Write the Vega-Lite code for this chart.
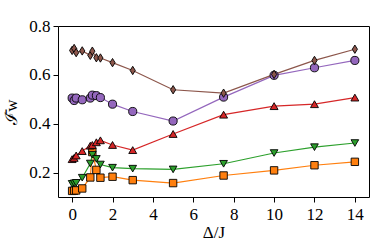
{
  "$schema": "https://vega.github.io/schema/vega-lite/v6.json",
  "width": 311,
  "height": 171,
  "autosize": {"type": "none"},
  "padding": {"left": 58, "top": 26, "right": 5, "bottom": 44},
  "background": "white",
  "config": {
    "view": {"stroke": "black", "strokeWidth": 1},
    "font": "Liberation Serif",
    "axis": {
      "grid": false,
      "domain": false,
      "tickColor": "black",
      "tickSize": 5,
      "tickWidth": 1,
      "labelFont": "Liberation Serif",
      "labelFontSize": 17,
      "labelColor": "black",
      "titleFont": "Liberation Serif",
      "titleFontSize": 17,
      "titleFontWeight": "normal",
      "titleColor": "black"
    }
  },
  "data": {
    "values": [
      {"x": 0, "y": 0.125, "s": "a"}, {"x": 0.1, "y": 0.126, "s": "a"}, {"x": 0.2, "y": 0.127, "s": "a"}, {"x": 0.5, "y": 0.135, "s": "a"}, {"x": 0.9, "y": 0.18, "s": "a"}, {"x": 1.0, "y": 0.284, "s": "a"}, {"x": 1.2, "y": 0.211, "s": "a"}, {"x": 1.4, "y": 0.179, "s": "a"}, {"x": 2, "y": 0.183, "s": "a"}, {"x": 3, "y": 0.169, "s": "a"}, {"x": 5, "y": 0.157, "s": "a"}, {"x": 7.5, "y": 0.188, "s": "a"}, {"x": 10, "y": 0.209, "s": "a"}, {"x": 12, "y": 0.23, "s": "a"}, {"x": 14, "y": 0.244, "s": "a"},
      {"x": 0, "y": 0.154, "s": "b"}, {"x": 0.1, "y": 0.156, "s": "b"}, {"x": 0.2, "y": 0.158, "s": "b"}, {"x": 0.5, "y": 0.179, "s": "b"}, {"x": 0.9, "y": 0.237, "s": "b"}, {"x": 1.0, "y": 0.273, "s": "b"}, {"x": 1.2, "y": 0.256, "s": "b"}, {"x": 1.4, "y": 0.233, "s": "b"}, {"x": 2, "y": 0.22, "s": "b"}, {"x": 3, "y": 0.216, "s": "b"}, {"x": 5, "y": 0.213, "s": "b"}, {"x": 7.5, "y": 0.236, "s": "b"}, {"x": 10, "y": 0.28, "s": "b"}, {"x": 12, "y": 0.304, "s": "b"}, {"x": 14, "y": 0.321, "s": "b"},
      {"x": 0, "y": 0.255, "s": "c"}, {"x": 0.1, "y": 0.26, "s": "c"}, {"x": 0.2, "y": 0.27, "s": "c"}, {"x": 0.5, "y": 0.288, "s": "c"}, {"x": 0.9, "y": 0.31, "s": "c"}, {"x": 1.0, "y": 0.313, "s": "c"}, {"x": 1.2, "y": 0.324, "s": "c"}, {"x": 1.4, "y": 0.332, "s": "c"}, {"x": 2, "y": 0.313, "s": "c"}, {"x": 3, "y": 0.292, "s": "c"}, {"x": 5, "y": 0.358, "s": "c"}, {"x": 7.5, "y": 0.437, "s": "c"}, {"x": 10, "y": 0.472, "s": "c"}, {"x": 12, "y": 0.48, "s": "c"}, {"x": 14, "y": 0.507, "s": "c"},
      {"x": 0, "y": 0.505, "s": "d"}, {"x": 0.1, "y": 0.495, "s": "d"}, {"x": 0.2, "y": 0.505, "s": "d"}, {"x": 0.5, "y": 0.498, "s": "d"}, {"x": 0.9, "y": 0.505, "s": "d"}, {"x": 1.0, "y": 0.517, "s": "d"}, {"x": 1.2, "y": 0.515, "s": "d"}, {"x": 1.4, "y": 0.507, "s": "d"}, {"x": 2, "y": 0.48, "s": "d"}, {"x": 3, "y": 0.45, "s": "d"}, {"x": 5, "y": 0.411, "s": "d"}, {"x": 7.5, "y": 0.509, "s": "d"}, {"x": 10, "y": 0.598, "s": "d"}, {"x": 12, "y": 0.629, "s": "d"}, {"x": 14, "y": 0.659, "s": "d"},
      {"x": 0, "y": 0.70, "s": "e"}, {"x": 0.1, "y": 0.708, "s": "e"}, {"x": 0.2, "y": 0.691, "s": "e"}, {"x": 0.5, "y": 0.698, "s": "e"}, {"x": 0.9, "y": 0.68, "s": "e"}, {"x": 1.0, "y": 0.697, "s": "e"}, {"x": 1.2, "y": 0.67, "s": "e"}, {"x": 1.4, "y": 0.669, "s": "e"}, {"x": 2, "y": 0.65, "s": "e"}, {"x": 3, "y": 0.618, "s": "e"}, {"x": 5, "y": 0.539, "s": "e"}, {"x": 7.5, "y": 0.525, "s": "e"}, {"x": 10, "y": 0.602, "s": "e"}, {"x": 12, "y": 0.659, "s": "e"}, {"x": 14, "y": 0.705, "s": "e"}
    ]
  },
  "encoding": {
    "x": {
      "field": "x", "type": "quantitative",
      "scale": {"domain": [-0.7, 14.7], "nice": false, "zero": false},
      "axis": {"values": [0, 2, 4, 6, 8, 10, 12, 14], "title": "Δ/J", "labelPadding": 4, "titlePadding": 2}
    },
    "y": {
      "field": "y", "type": "quantitative",
      "scale": {"domain": [0.1, 0.8], "nice": false, "zero": false},
      "axis": {"values": [0.2, 0.4, 0.6, 0.8], "format": ".1f", "title": "ℐ̄w", "labelPadding": 3, "titlePadding": 8}
    },
    "color": {
      "field": "s", "type": "nominal", "legend": null,
      "scale": {"domain": ["a", "b", "c", "d", "e"], "range": ["#ff7f0e", "#2ca02c", "#d62728", "#9467bd", "#8c564b"]}
    }
  },
  "layer": [
    {"mark": {"type": "line", "strokeWidth": 1.2}, "encoding": {"detail": {"field": "s"}}},
    {
      "mark": {"type": "point", "filled": true, "opacity": 1, "stroke": "black", "strokeWidth": 0.9},
      "encoding": {
        "shape": {"field": "s", "type": "nominal", "legend": null,
          "scale": {"domain": ["a", "b", "c", "d", "e"], "range": ["square", "triangle-down", "triangle-up", "circle", "M0,-1L0.62,0L0,1L-0.62,0Z"]}},
        "size": {"field": "s", "type": "nominal", "legend": null,
          "scale": {"domain": ["a", "b", "c", "d", "e"], "range": [55, 70, 70, 70, 130]}},
        "fill": {"field": "s", "type": "nominal", "legend": null,
          "scale": {"domain": ["a", "b", "c", "d", "e"], "range": ["#ff7f0e", "#2ca02c", "#d62728", "#9467bd", "#8c564b"]}}
      }
    }
  ]
}
